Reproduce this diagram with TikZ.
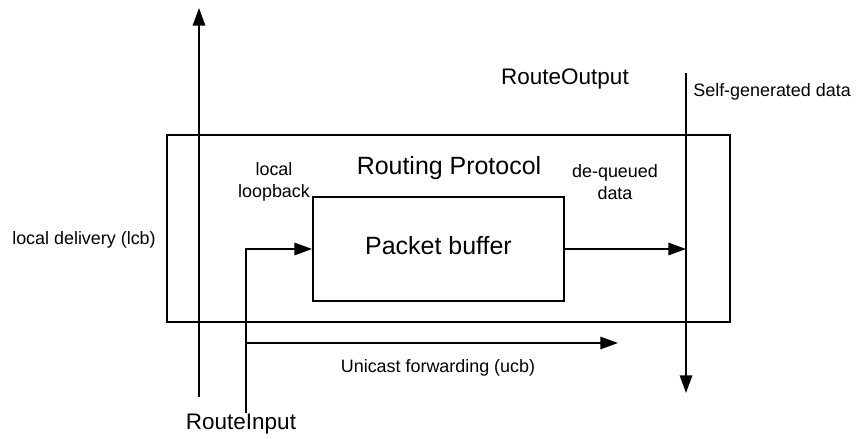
\documentclass[tikz,border=0pt]{standalone}
\usepackage{fontspec}
\setmainfont{Liberation Sans}
\usepackage{tikz}
\usetikzlibrary{arrows.meta,positioning}
\tikzset{
  wire/.style={line width=1.1pt, draw=black},
  flow/.style={wire, -{Triangle[length=10pt,width=7pt]}},
  box/.style={wire, rectangle, inner sep=0pt},
  lab/.style={font=\fontsize{10.2}{12.5}\selectfont, align=center, inner sep=0pt},
  biglab/.style={font=\fontsize{12.8}{15}\selectfont, inner sep=0pt},
  title/.style={font=\fontsize{14.2}{17}\selectfont, inner sep=0pt}
}
\begin{document}
\begin{tikzpicture}[x=0.02cm, y=-0.02cm]
    \useasboundingbox (0,0) rectangle (866,439);

    % boxes
    \node[box, minimum width=11.26cm, minimum height=3.74cm] (protocol) at (448.5,228.5) {};
    \node[box, minimum width=5.02cm, minimum height=2.08cm] (buffer) at (438.5,249) {};
    \node[title] (buffertext) at (438.5,246) {Packet buffer};
    \node[title] (protocoltext) at (449,168) {Routing Protocol};

    % end points
    \coordinate (lcbstart) at (199,397);
    \coordinate (lcbend) at (199,8);
    \coordinate (inputstart) at (246,413);
    \coordinate (ucbstart) at (246,343);
    \coordinate (ucbend) at (618,343);
    \coordinate (outputstart) at (686,73);
    \coordinate (outputend) at (686,393);

    % connectors
    \draw[flow] (lcbstart) -- (lcbend);
    \draw[flow] (inputstart) |- (buffer.west);
    \draw[flow] (ucbstart) -- (ucbend);
    \draw[flow] (buffer.east) -- (buffer.east -| outputstart);
    \draw[flow] (outputstart) -- (outputend);

    % labels
    \node[lab] (lcblabel) at (84,240) {local delivery (lcb)};
    \node[lab] (looplabel) at (274,182) {local\\loopback};
    \node[lab] (dequeuelabel) at (615,182) {de-queued\\data};
    \node[lab] (ucblabel) at (438,368) {Unicast forwarding (ucb)};
    \node[lab, anchor=west] (selflabel) at (693,92) {Self-generated data};
    \node[biglab] (inputlabel) at (241,424) {RouteInput};
    \node[biglab] (outputlabel) at (565,79) {RouteOutput};
\end{tikzpicture}
\end{document}
